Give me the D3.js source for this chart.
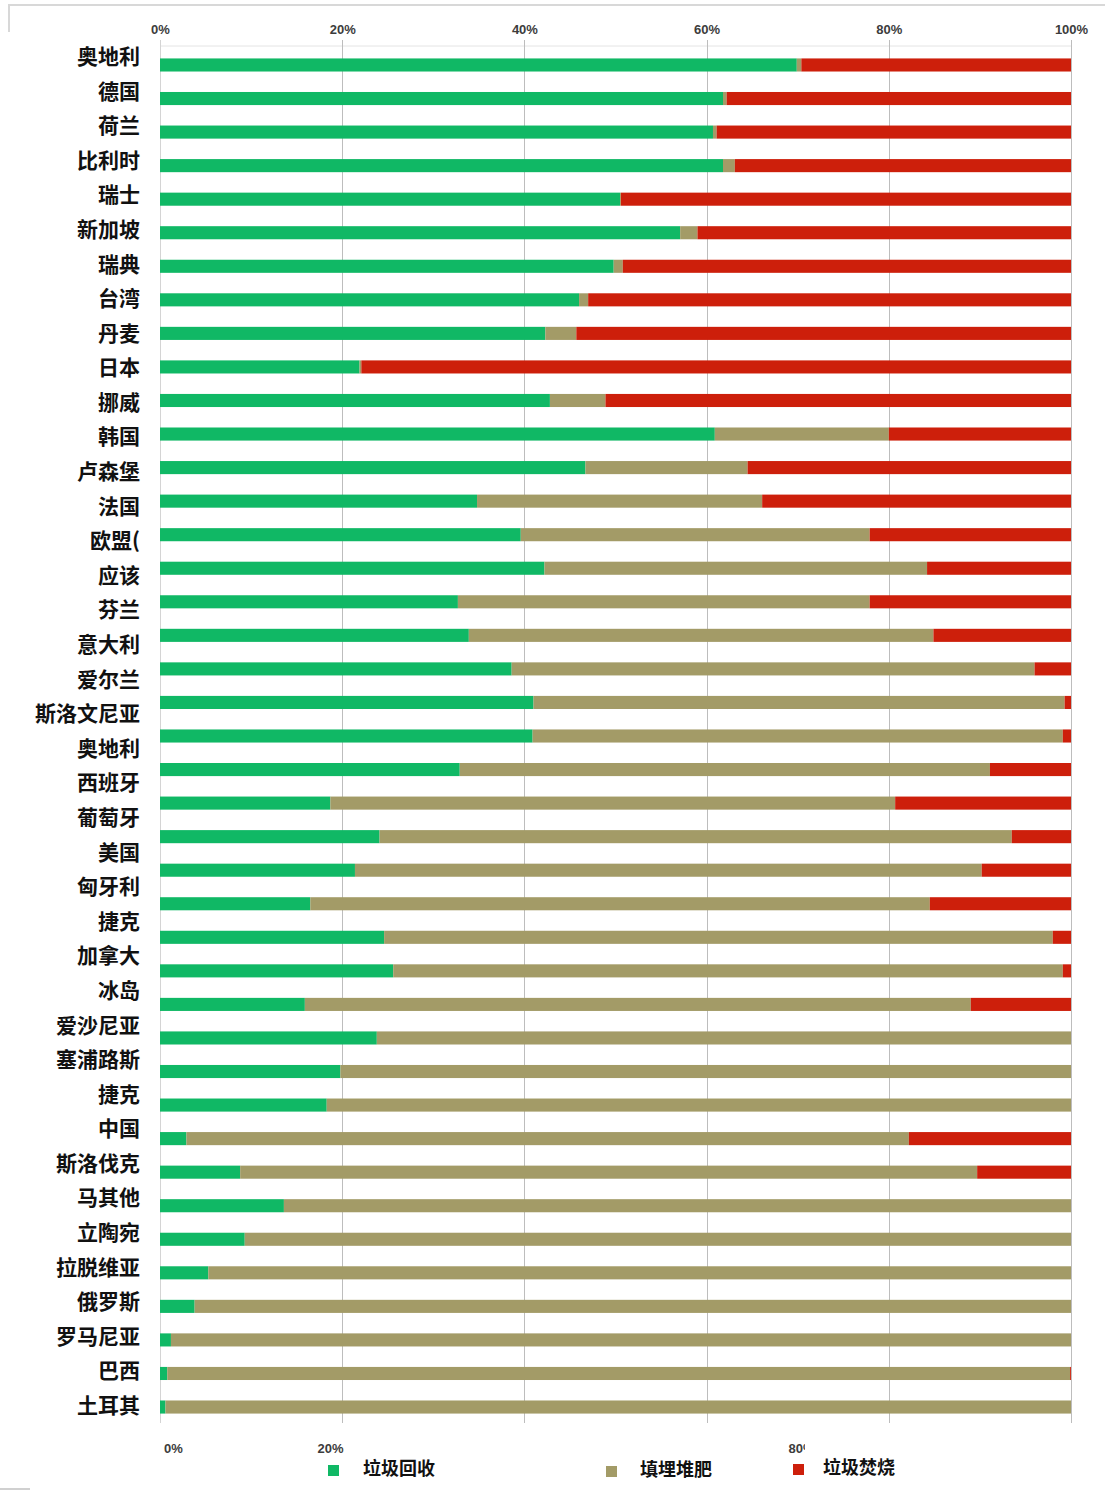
<!DOCTYPE html>
<html>
<head>
<meta charset="utf-8">
<script src="https://cdn.jsdelivr.net/npm/d3@7"></script>
<style>
  html, body { margin: 0; padding: 0; background: #fff; }
  svg { display: block; }
  .tick-top text, .tick-bottom text { font-family: "Liberation Sans", Arial, sans-serif; font-weight: bold; font-size: 13px; fill: #3c3c3c; }
  .country { font-family: "Noto Sans CJK SC", sans-serif; font-weight: bold; font-size: 21px; fill: #111; }
  .legend-text { font-family: "Noto Sans CJK SC", sans-serif; font-weight: bold; font-size: 18px; fill: #111; }
</style>
</head>
<body>
<svg id="chart" width="1105" height="1492"></svg>
<script>
// Row labels of the left column
const countries = ["奥地利","德国","荷兰","比利时","瑞士","新加坡","瑞典","台湾","丹麦","日本",
  "挪威","韩国","卢森堡","法国","欧盟(","应该","芬兰","意大利","爱尔兰","斯洛文尼亚",
  "奥地利","西班牙","葡萄牙","美国","匈牙利","捷克","加拿大","冰岛","爱沙尼亚","塞浦路斯",
  "捷克","中国","斯洛伐克","马其他","立陶宛","拉脱维亚","俄罗斯","罗马尼亚","巴西","土耳其"];

// Share of municipal waste per treatment (%), one entry per bar, top to bottom
const recycled = [69.9,61.8,60.7,61.8,50.5,57.1,49.8,46.0,42.3,21.9,
  42.8,60.9,46.7,34.8,39.6,42.2,32.7,33.9,38.6,41.0,
  40.9,32.9,18.7,24.1,21.4,16.5,24.6,25.6,15.9,23.8,
  19.8,18.3,2.9,8.8,13.6,9.3,5.3,3.8,1.2,0.8,0.6];
const landfill = [0.5,0.4,0.4,1.3,0.1,1.9,1.0,1.0,3.4,0.2,
  6.1,19.1,17.8,31.3,38.3,42.0,45.2,51.0,57.4,58.3,
  58.2,58.2,62.0,69.4,68.8,68.0,73.4,73.5,73.1,76.2,
  80.2,81.7,79.3,80.9,86.4,90.7,94.7,96.2,98.8,99.1,99.4];
const incinerated = [29.6,37.8,38.9,36.9,49.4,41.0,49.2,53.0,54.3,77.9,
  51.1,20.0,35.5,33.9,22.1,15.8,22.1,15.1,4.0,0.7,
  0.9,8.9,19.3,6.5,9.8,15.5,2.0,0.9,11.0,0,
  0,0,17.8,10.3,0,0,0,0,0,0.1,0];

const seriesKeys = ["recycled","landfill","incinerated"];
const legendLabels = ["垃圾回收","填埋堆肥","垃圾焚烧"];
const topTicks = [0, 0.2, 0.4, 0.6, 0.8, 1.0];
const bottomTicks = [0, 0.2, 0.8];

const colors = { recycled: "#10b865", landfill: "#a39b67", incinerated: "#cd1f0b" };

const svg = d3.select("#chart");

// frame remnants
svg.append("line").attr("x1", 8).attr("x2", 1105).attr("y1", 5).attr("y2", 5)
  .attr("stroke", "#d8d8d8").attr("stroke-width", 2);
svg.append("line").attr("x1", 9).attr("x2", 9).attr("y1", 5).attr("y2", 32)
  .attr("stroke", "#d8d8d8").attr("stroke-width", 2);
svg.append("line").attr("x1", 0).attr("x2", 30).attr("y1", 1489).attr("y2", 1489)
  .attr("stroke", "#d0d0d0").attr("stroke-width", 2);

const x = d3.scaleLinear().domain([0, 1]).range([160, 1071]);

const rows = recycled.map((r, i) => ({ idx: i, recycled: r / 100, landfill: landfill[i] / 100, incinerated: incinerated[i] / 100 }));
const y = d3.scaleBand()
  .domain(rows.map(d => d.idx))
  .range([48.2, 1423.8])
  .paddingInner(0.61)
  .paddingOuter(0.305);

const yLabel = d3.scalePoint().domain(d3.range(countries.length)).range([55, 1404]);

// plot border and gridlines
svg.append("line").attr("x1", x(0)).attr("x2", x(1)).attr("y1", 46).attr("y2", 46)
  .attr("stroke", "#e4e4e4");
svg.append("g")
  .selectAll("line").data(topTicks).join("line")
  .attr("x1", d => Math.round(x(d)) + 0.5).attr("x2", d => Math.round(x(d)) + 0.5)
  .attr("y1", 40).attr("y2", 1423)
  .attr("stroke", d => d === 0 ? "#d4d4d4" : "#bdbdbd").attr("stroke-width", 1);

// top axis labels
const topAxis = d3.axisTop(x).tickValues(topTicks).tickFormat(d3.format(".0%")).tickSize(0).tickPadding(0);
svg.append("g").attr("class", "tick-top").attr("transform", "translate(0,34)").call(topAxis)
  .call(g => g.select(".domain").remove());

// stacked bars
const stack = d3.stack().keys(seriesKeys);
const stacked = stack(rows);
svg.append("g").selectAll("g").data(stacked).join("g")
  .attr("fill", s => colors[s.key])
  .selectAll("rect").data(s => s).join("rect")
  .attr("x", d => x(d[0]))
  .attr("width", d => Math.max(0, x(d[1]) - x(d[0])))
  .attr("y", d => y(d.data.idx))
  .attr("height", y.bandwidth());

// left labels
svg.append("g").selectAll("text").data(countries).join("text")
  .attr("class", "country")
  .attr("x", 140)
  .attr("y", (d, i) => yLabel(i))
  .attr("text-anchor", "end")
  .attr("dominant-baseline", "central")
  .text(d => d);

// bottom axis labels (partly covered by the legend panel)
const xb = d3.scaleLinear().domain([0, 1]).range([173, 958]);
svg.append("clipPath").attr("id", "bottom-clip")
  .append("rect").attr("x", 140).attr("y", 1430).attr("width", 665).attr("height", 40);
const bottomAxis = d3.axisBottom(xb).tickValues(bottomTicks).tickFormat(d3.format(".0%")).tickSize(0).tickPadding(0);
svg.append("g").attr("clip-path", "url(#bottom-clip)")
  .append("g").attr("class", "tick-bottom")
  .attr("transform", "translate(0,1444)").call(bottomAxis)
  .call(g => g.select(".domain").remove());

// legend
const legendPos = [
  { sx: 328, sy: 1465, tx: 363 },
  { sx: 606, sy: 1466, tx: 640 },
  { sx: 793, sy: 1464, tx: 823 }
];
const lg = svg.append("g").selectAll("g").data(seriesKeys).join("g");
lg.append("rect")
  .attr("x", (d, i) => legendPos[i].sx).attr("y", (d, i) => legendPos[i].sy)
  .attr("width", 11).attr("height", 11).attr("fill", d => colors[d]);
lg.append("text").attr("class", "legend-text")
  .attr("x", (d, i) => legendPos[i].tx).attr("y", (d, i) => legendPos[i].sy + 2)
  .attr("dominant-baseline", "central")
  .text((d, i) => legendLabels[i]);
</script>
</body>
</html>
